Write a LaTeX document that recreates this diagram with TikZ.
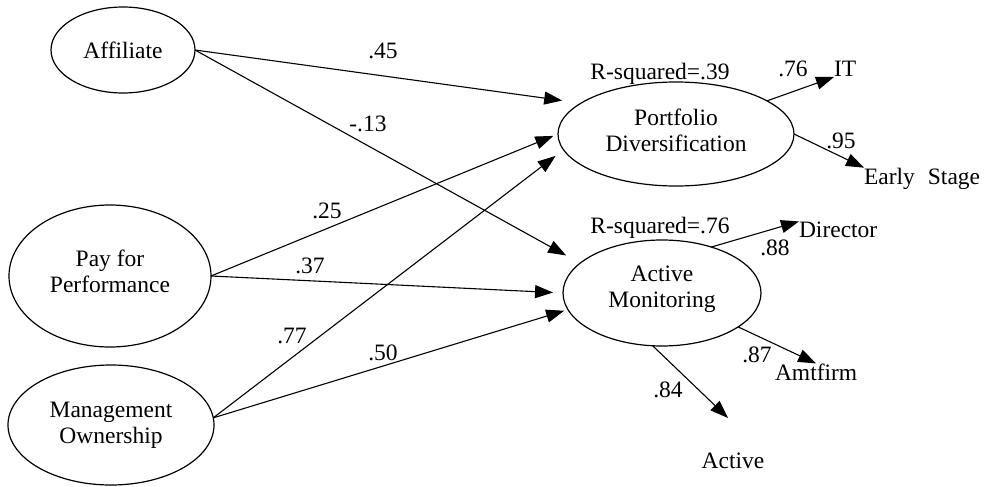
\documentclass[tikz,border=0pt]{standalone}
\usepackage{fontspec}
\setmainfont{Liberation Serif}
\usetikzlibrary{shapes.geometric,arrows.meta}
\begin{document}
\begin{tikzpicture}[x=1pt,y=-1pt,
  every node/.style={font=\fontsize{23.5}{26}\selectfont,inner sep=0pt,outer sep=0pt},
  lat/.style={ellipse,draw,line width=1.2pt},
  lattext/.style={align=center},
  ind/.style={anchor=base west},
  lbl/.style={anchor=base},
  arr/.style={line width=1.1pt,-{Triangle[length=18pt,width=13pt]}}]
\useasboundingbox (0,0) rectangle (988,487);
\fill[white] (0,0) rectangle (988,487);
% latent variables
\node[lat,minimum width=144pt,minimum height=86pt] (aff) at (123,50) {};
\node[lattext] (afft) at (123,50) {Affiliate};
\node[lat,minimum width=202pt,minimum height=142pt] (pay) at (110,276) {};
\node[lattext] (payt) at (110,271) {Pay for\\Performance};
\node[lat,minimum width=206pt,minimum height=120pt] (mg) at (111,425) {};
\node[lattext] (mgt) at (111,425) {Management\\Ownership};
\node[lat,minimum width=236pt,minimum height=104pt] (pd) at (676,134) {};
\node[lattext] (pdt) at (676,130) {Portfolio\\Diversification};
\node[lat,minimum width=198pt,minimum height=106pt] (am) at (662,293) {};
\node[lattext] (amt0) at (662,289) {Active\\Monitoring};
% indicators
\node[ind] (it) at (834,77) {IT};
\node[ind] (es) at (864,184) {Early\hspace{13pt}Stage};
\node[ind] (dir) at (799,237) {Director};
\node[ind] (amt) at (775,380) {Amtfirm};
\node[lbl] (act) at (733,468) {Active};
\coordinate (acttip) at (728,418);
% R-squared
\node[lbl] (r1) at (660,79) {R-squared=.39};
\node[lbl] (r2) at (660,233) {R-squared=.76};
% structural paths
\draw[arr,shorten >=19pt] (aff.east) -- (pd.162);
\draw[arr,shorten >=16pt] (aff.east) -- (am.160);
\draw[arr,shorten >=5pt] (pay.east) -- (pd.180);
\draw[arr,shorten >=10pt] (pay.east) -- (am.180);
\draw[arr,shorten >=10pt] (mg.4) -- (pd.188);
\draw[arr,shorten >=4pt] (mg.4) -- (am.190);
% measurement paths
\draw[arr] (pd.20) -- (it.base west);
\draw[arr] (pd.east) -- (es.north west);
\draw[arr] (am.43) -- (dir.north west);
\draw[arr] (am.-24) -- (amt.north);
\draw[arr] (am.-100) -- (acttip);
% coefficients
\node[lbl] (c45) at (383,59) {.45};
\node[lbl] (c13) at (368,131) {-.13};
\node[lbl] (c25) at (327,218) {.25};
\node[lbl] (c37) at (310,273) {.37};
\node[lbl] (c77) at (292,343) {.77};
\node[lbl] (c50) at (383,360) {.50};
\node[lbl] (c76) at (793,77) {.76};
\node[lbl] (c95) at (841,148) {.95};
\node[lbl] (c88) at (775,255) {.88};
\node[lbl] (c87) at (757,362) {.87};
\node[lbl] (c84) at (668,397) {.84};
\end{tikzpicture}
\end{document}
